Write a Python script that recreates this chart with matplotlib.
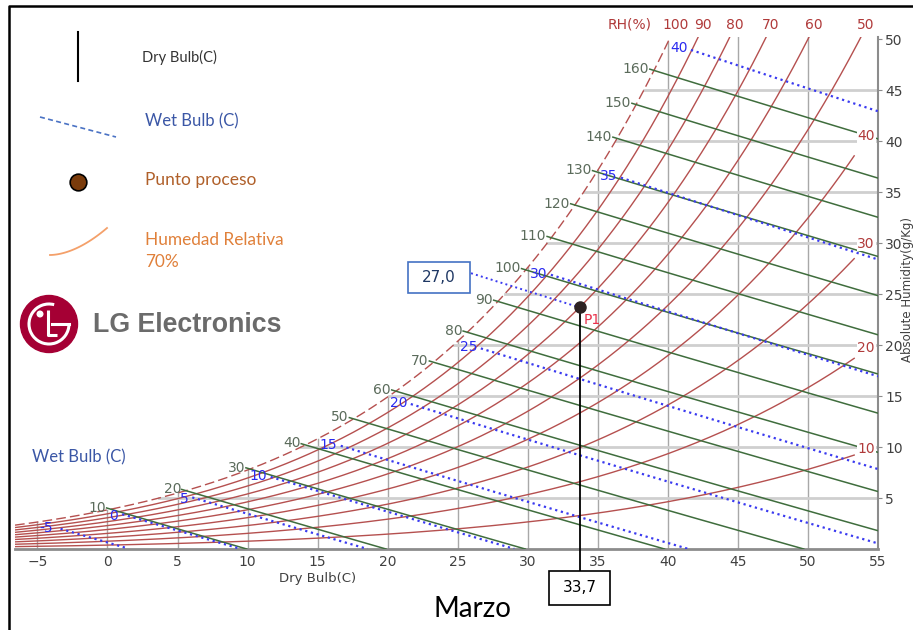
import numpy as np
import matplotlib
matplotlib.use("Agg")
import matplotlib.pyplot as plt
from matplotlib.patches import Rectangle, Circle, Arc

# chart data
P_ATM = 99.7  # kPa
dryBulbTicks = [-5, 0, 5, 10, 15, 20, 25, 30, 35, 40, 45, 50, 55]
humidityTicks = [5, 10, 15, 20, 25, 30, 35, 40, 45, 50]
rhLevels = [10, 20, 30, 40, 50, 60, 70, 80, 90, 100]
rhSideLabels = [10, 20, 30, 40]
rhTopLabels = [100, 90, 80, 70, 60, 50]
enthalpyLevels = [10, 20, 30, 40, 50, 60, 70, 80, 90, 100, 110, 120, 130, 140, 150, 160]
wetBulbLevels = [-5, 0, 5, 10, 15, 20, 25, 30, 35, 40]
processT = 33.7
processRH = 70
processName = "P1"
boxWetBulb = "27,0"
boxDryBulb = "33,7"

T_MIN, T_MAX = -6.6, 55.0
W_MAX = 50.2

RH_C = "#b5504f"
RH_TXT = "#b03a3a"
H_C = "#3f6d3d"
H_TXT = "#5b6b5b"
WB_C = "#3a3af0"
WB_TXT = "#2a2af0"


def Psat(t):
    return 0.61094 * np.exp(17.625 * t / (t + 243.04))


def W_rh(t, rh):
    pv = rh / 100.0 * Psat(t)
    return 622.0 * pv / (P_ATM - pv)


def W_h(t, h):
    return (h - 1.006 * t) / (2.501 + 0.00186 * t)


def W_wb(t, twb):
    ws = W_rh(twb, 100) / 1000.0
    return 1000.0 * ((2501 - 2.326 * twb) * ws - 1.006 * (t - twb)) / (2501 + 1.86 * t - 4.186 * twb)


tGrid = np.linspace(-10, 60, 7001)
wSatGrid = W_rh(tGrid, 100)
hSatGrid = 1.006 * tGrid + wSatGrid * (2.501 + 0.00186 * tGrid)

fig = plt.figure(figsize=(9.13, 6.30), dpi=100)
fig.patch.set_facecolor("white")
ax = fig.add_axes([15 / 913, 1 - 549 / 630, 863 / 913, 512 / 630])
ax.set_xlim(T_MIN, T_MAX)
ax.set_ylim(0, W_MAX)

# grid below saturation
for t in dryBulbTicks[:-1]:
    ax.plot([t, t], [0, min(W_rh(t, 100), W_MAX)], color="#a8a8a8", lw=1.0, zorder=1)
for w in humidityTicks[:-1]:
    ax.plot([np.interp(w, wSatGrid, tGrid), T_MAX], [w, w], color="#cfcfcf", lw=2.0, zorder=1)

# relative humidity curves (saturation dashed)
for rh in rhLevels:
    wc = W_rh(tGrid, rh)
    tTop = np.interp(W_MAX, wc, tGrid)
    tEnd = 53.3 if rh in rhSideLabels else tTop
    t = np.linspace(T_MIN, tEnd, 500)
    ls = (0, (7, 3)) if rh == 100 else "-"
    ax.plot(t, W_rh(t, rh), color=RH_C, lw=1.0, ls=ls, zorder=2)
    if rh in rhSideLabels:
        ax.text(54.15, W_rh(54.15, rh) + 0.2, str(rh), color=RH_TXT, fontsize=10,
                ha="center", va="center", zorder=5,
                bbox=dict(facecolor="white", edgecolor="none", pad=0.5))
    if rh in rhTopLabels:
        ax.text(tTop + 0.35, 51.4, str(rh), color=RH_TXT, fontsize=10,
                ha="center", va="center", clip_on=False)
ax.text(37.3, 51.4, "RH(%)", color=RH_TXT, fontsize=10, ha="center", va="center", clip_on=False)

# enthalpy lines
for h in enthalpyLevels:
    ts = np.interp(h, hSatGrid, tGrid)
    tEnd = min(T_MAX, h / 1.006)
    t = np.linspace(ts - 0.3, tEnd, 200)
    w = W_h(t, h)
    ax.plot(t, w, color=H_C, lw=1.1, zorder=3)
    ax.text(ts - 0.35, W_h(ts - 0.35, h), str(h), color=H_TXT, fontsize=10,
            ha="right", va="center", zorder=5)

# wet bulb lines
for twb in wetBulbLevels:
    lab = str(twb)
    gap = 0.45 + 0.6 * len(lab)
    t = np.linspace(twb + gap, T_MAX, 400)
    w = W_wb(t, twb)
    ok = w >= 0
    ax.plot(t[ok], w[ok], color=WB_C, ls=":", lw=1.6, zorder=3)
    ax.text(twb + 0.15, W_rh(twb, 100) - 0.6, lab, color=WB_TXT, fontsize=10,
            ha="left", va="center", zorder=5)

# process point
wP = W_rh(processT, processRH)
twbGrid = np.linspace(0, 40, 4001)
twbP = np.interp(wP, W_wb(processT, twbGrid), twbGrid)
tl = np.linspace(25.95, processT, 50)
ax.plot(tl, W_wb(tl, twbP), color=WB_C, ls=":", lw=1.4, zorder=4, clip_on=False)
ax.plot([processT, processT], [wP, -2.15], color="black", lw=1.3, zorder=6, clip_on=False)
ax.plot(processT, wP, "o", ms=8, color="#2d2222", zorder=7)
ax.text(processT + 0.3, wP - 1.2, processName, color="#e8304a", fontsize=10,
        ha="left", va="center", zorder=7)

ax.add_patch(Rectangle((processT - 2.18, -5.48), 4.35, 3.33, facecolor="white",
                       edgecolor="black", lw=1.2, clip_on=False, zorder=6))
ax.text(processT, -3.82, boxDryBulb, fontsize=11, ha="center", va="center", clip_on=False, zorder=7)
ax.add_patch(Rectangle((21.43, 25.1), 4.42, 3.04, facecolor="white",
                       edgecolor="#4472c4", lw=1.2, clip_on=False, zorder=6))
ax.text(23.64, 26.62, boxWetBulb, fontsize=11, color="#1f3864", ha="center", va="center",
        clip_on=False, zorder=7)

# axes styling
for s in ["top", "left"]:
    ax.spines[s].set_visible(False)
ax.spines["bottom"].set_color("#8c8c8c")
ax.spines["bottom"].set_linewidth(2)
ax.spines["right"].set_color("#8c8c8c")
ax.spines["right"].set_linewidth(1.5)
ax.yaxis.tick_right()
ax.set_yticks(humidityTicks)
ax.set_xticks(dryBulbTicks)
ax.tick_params(axis="y", length=3, color="#8c8c8c", labelsize=10, labelcolor="#404040", pad=2)
ax.tick_params(axis="x", length=0, labelsize=10, labelcolor="#404040", pad=4)
ax.text(15.0, -2.85, "Dry Bulb(C)", fontsize=9.5, color="#404040", ha="center", va="center", clip_on=False)
fig.text(907.5 / 913, 1 - 290 / 630, "Absolute Humidity(g/Kg)", rotation=90, fontsize=8.5,
         color="#404040", ha="center", va="center")

# overlay in pixel coordinates: legend, logo, captions
ov = fig.add_axes([0, 0, 1, 1], facecolor="none")
ov.set_xlim(0, 913)
ov.set_ylim(630, 0)
ov.axis("off")
ov.set_zorder(5)

ov.plot([8.5, 8.5, 920], [640, 5.5, 5.5], color="black", lw=1.8)

ov.plot([78, 78], [32, 81], color="black", lw=1.5)
ov.text(142, 57, "Dry Bulb(C)", family="Lato", fontsize=10.5, color="#333333", va="center")
ov.plot([40, 116], [117, 137], color="#4a72c4", ls=(0, (3, 2)), lw=1.2)
ov.text(145, 121, "Wet Bulb (C)", family="Lato", fontsize=12, color="#3b57a6", va="center")
ov.plot(78, 182, "o", ms=12, color="#7a3b0b", mec="black", mew=1.2)
ov.text(145, 180, "Punto proceso", family="Lato", fontsize=12.5, color="#b0602a", va="center")
cx = np.linspace(50, 107, 40)
ov.plot(cx, 255 - 27 * ((cx - 50) / 57) ** 1.8, color="#f4a06a", lw=1.3)
ov.text(145, 240, "Humedad Relativa", family="Lato", fontsize=12.4, color="#e0803a", va="center")
ov.text(145, 262, "70%", family="Lato", fontsize=12.4, color="#e0803a", va="center")

ov.text(32, 457, "Wet Bulb (C)", family="Lato", fontsize=12, color="#3b57a6", va="center")

# LG logo
ov.add_patch(Circle((49, 324), 28.5, color="#a50034"))
ov.add_patch(Arc((49, 324), 40, 40, theta1=0, theta2=285, color="white", lw=2.2))
ov.plot([52, 69], [324, 324], color="white", lw=2.2)
ov.add_patch(Circle((40, 314), 2.8, color="white"))
ov.plot([48, 48, 57], [310, 335, 335], color="white", lw=2.2, solid_capstyle="butt")
ov.text(93, 325, "LG Electronics", family="Liberation Sans", weight="bold", fontsize=19.3,
        color="#6b6b6b", va="center")

ov.text(472, 609, "Marzo", family="Lato", fontsize=20, color="black", ha="center", va="center")

fig.savefig("out.png", dpi=100, facecolor="white")
